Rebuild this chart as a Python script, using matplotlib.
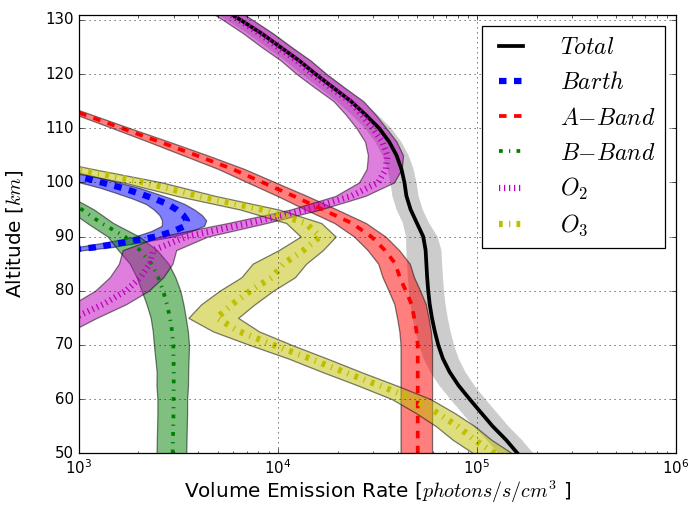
import numpy as np
import matplotlib
matplotlib.use("Agg")
import matplotlib.pyplot as plt

plt.style.use("classic")
plt.rcParams["mathtext.fontset"] = "cm"

# ---- volume emission rate profiles [photons/s/cm^3] vs altitude [km] ----
alt_total = [50, 52.5, 55, 57.5, 60, 62.5, 65, 67.5, 70, 72.5, 75, 77.5, 80, 82.5,
             85, 87.5, 90, 92.5, 95, 97.5, 100, 102.5, 105, 107.5, 110, 112.5,
             115, 117.5, 120, 122.5, 125, 127.5, 130, 132.5]
ver_total = [160000, 140000, 120000, 105000, 92000, 81000, 73000, 67500, 64000,
             61500, 59500, 58000, 57000, 56300, 55800, 55300, 53800, 50000, 46500,
             44300, 43300, 41800, 39500, 36300, 32300, 27600, 23300, 19000, 15500,
             12800, 10300, 8300, 6500, 5100]
err_total = [0.2, 0.2, 0.2, 0.2, 0.2, 0.2, 0.2, 0.2, 0.2, 0.2, 0.2, 0.2, 0.2, 0.2,
             0.2, 0.2, 0.18, 0.15, 0.15, 0.15, 0.15, 0.15, 0.15, 0.15, 0.15, 0.15,
             0.15, 0.15, 0.15, 0.15, 0.15, 0.15, 0.15, 0.15]

alt_barth = [85, 86, 87, 88, 89, 90, 91, 92, 93, 94, 95, 96, 97, 98, 99, 100, 101,
             102, 103, 104]
ver_barth = [250, 380, 650, 1200, 1750, 2450, 3000, 3450, 3500, 3350, 3100, 2800,
             2400, 2000, 1650, 1300, 1020, 780, 600, 450]
err_barth = [0.2, 0.2, 0.2, 0.2, 0.2, 0.22, 0.23, 0.24, 0.25, 0.24, 0.23, 0.22,
             0.22, 0.22, 0.22, 0.22, 0.22, 0.22, 0.22, 0.22]

alt_aband = [50, 52.5, 55, 57.5, 60, 62.5, 65, 67.5, 70, 72.5, 75, 77.5, 80, 82.5,
             85, 87.5, 90, 92.5, 95, 97.5, 100, 102.5, 105, 107.5, 110, 112.5, 115]
ver_aband = [50500, 50500, 50500, 50500, 50500, 50500, 50500, 50500, 50500, 49800,
             48500, 47000, 44000, 41000, 39000, 34500, 29500, 23500, 16800, 12000,
             8400, 5900, 3900, 2550, 1650, 1070, 690]
err_aband = [0.18, 0.18, 0.18, 0.18, 0.18, 0.18, 0.18, 0.18, 0.18, 0.18, 0.18, 0.18,
             0.18, 0.18, 0.18, 0.18, 0.18, 0.18, 0.18, 0.17, 0.16, 0.15, 0.14, 0.12,
             0.1, 0.09, 0.08]

alt_bband = [50, 52.5, 55, 57.5, 60, 62.5, 65, 67.5, 70, 72.5, 75, 77.5, 80, 82.5,
             85, 87.5, 90, 92.5, 95, 97.5]
ver_bband = [2970, 2980, 2990, 3000, 3000, 3005, 3010, 3000, 2990, 2950, 2880, 2780,
             2660, 2510, 2320, 2030, 1710, 1300, 1040, 780]
err_bband = [0.17, 0.17, 0.17, 0.17, 0.17, 0.18, 0.18, 0.19, 0.2, 0.2, 0.2, 0.21,
             0.22, 0.22, 0.22, 0.22, 0.18, 0.15, 0.15, 0.15]

alt_o2 = [72.5, 75, 77.5, 80, 82.5, 85, 87.5, 90, 92.5, 95, 97.5, 100, 102.5, 105,
          107.5, 110, 112.5, 115, 117.5, 120, 122.5, 125, 127.5, 130, 132.5]
ver_o2 = [700, 950, 1330, 1730, 2050, 2280, 2380, 3500, 7200, 14000, 23500, 32000,
          35000, 35500, 33500, 30000, 26500, 23000, 18500, 15000, 12500, 10000, 8100,
          6400, 5000]
err_o2 = [0.3, 0.3, 0.3, 0.3, 0.3, 0.3, 0.3, 0.27, 0.22, 0.17, 0.17, 0.2, 0.2, 0.2,
          0.18, 0.17, 0.17, 0.17, 0.17, 0.17, 0.17, 0.17, 0.17, 0.17, 0.17]

alt_o3 = [50, 52.5, 55, 57.5, 60, 62.5, 65, 67.5, 70, 72.5, 75, 77.5, 80, 82.5, 85,
          87.5, 90, 92.5, 95, 97.5, 100, 102.5, 105]
ver_o3 = [123000, 97000, 80000, 63000, 48000, 32500, 21500, 14500, 9500, 6400, 4950,
          5900, 7300, 9400, 10700, 13500, 16300, 13800, 8300, 4000, 2150, 960, 450]
err_o3 = [0.22, 0.22, 0.22, 0.22, 0.22, 0.22, 0.22, 0.22, 0.24, 0.26, 0.28, 0.3, 0.3,
          0.3, 0.3, 0.25, 0.2, 0.2, 0.22, 0.22, 0.22, 0.22, 0.22]

labels = [r"$Total$", r"$Barth$", r"$A{-}Band$", r"$B{-}Band$", r"$O_2$", r"$O_3$"]
colors = ["k", "b", "r", "g", "m", "y"]
styles = ["-", "--", "--", "-.", ":", "-."]
widths = [3, 5, 3, 3, 5, 5]

profiles = [(alt_total, ver_total, err_total), (alt_barth, ver_barth, err_barth),
            (alt_aband, ver_aband, err_aband), (alt_bband, ver_bband, err_bband),
            (alt_o2, ver_o2, err_o2), (alt_o3, ver_o3, err_o3)]

DPI = 90
fig = plt.figure(figsize=(689 / DPI, 511 / DPI), dpi=DPI, facecolor="white")
ax = fig.add_axes([78.5 / 689, 1 - 453.3 / 511, (676 - 78.5) / 689, (453.3 - 15) / 511])

for (alt, ver, err), lab, c, ls, lw in zip(profiles, labels, colors, styles, widths):
    alt = np.asarray(alt, float)
    ver = np.asarray(ver, float)
    err = np.asarray(err, float)
    ax.plot(ver, alt, color=c, linestyle=ls, linewidth=lw, label=lab)
    if c == "k":
        ax.fill_betweenx(alt, ver * (1 - err), ver * (1 + err), facecolor="k",
                         edgecolor="none", alpha=0.2)
    else:
        ax.fill_betweenx(alt, ver * (1 - err), ver * (1 + err), facecolor=c,
                         edgecolor="k", alpha=0.5)

ax.set_xscale("log")
ax.set_xlim(1e3, 1e6)
ax.set_ylim(50, 130.9)
ax.set_yticks(np.arange(50, 131, 10))
ax.grid(True)

ax.set_xlabel(r"Volume Emission Rate [$photons/s/cm^3$ ]", fontsize=16, labelpad=1)
ax.set_ylabel(r"Altitude [$km$]", fontsize=16, labelpad=16)

ax.legend(loc="upper right", fontsize=19, handlelength=1.64, handletextpad=1.25,
          labelspacing=0.47, borderaxespad=0.45)

fig.savefig("out.png", dpi=DPI, facecolor="white")
